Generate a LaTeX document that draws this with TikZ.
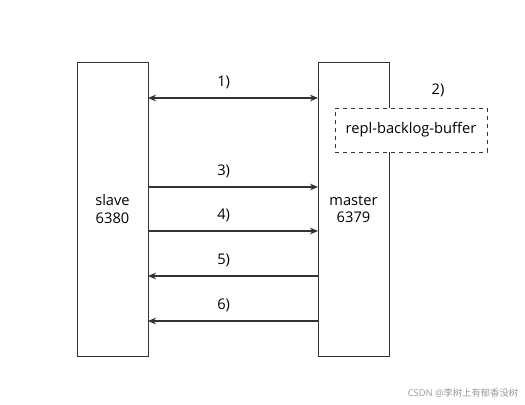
\documentclass[tikz,border=0pt]{standalone}
\usepackage{fontspec}
\setmainfont{Open Sans}
\newfontfamily\cjk{Noto Sans CJK SC}
\usetikzlibrary{arrows.meta}

\begin{document}
\begin{tikzpicture}[x=0.75pt,y=-0.75pt,every node/.style={font=\fontsize{11}{13}\selectfont},
  server/.style={draw=black!80,line width=0.7pt,minimum width=71*0.75pt,minimum height=294*0.75pt,align=center,inner sep=0pt},
  buffer/.style={draw=black!80,dashed,fill=white,line width=0.7pt,minimum width=152*0.75pt,minimum height=44*0.75pt,inner sep=0pt},
  msg/.style={draw=black!80,line width=0.9pt,-{Stealth[length=6pt,width=5pt]}},
  lbl/.style={above=3pt,xshift=-7pt}]
\useasboundingbox (0,0) rectangle (525,404);
\node[server] (slave) at (112.5,209) {slave\\6380};
\node[server] (master) at (353.5,209) {master\\6379};
\node[buffer] (buffer) at (411,130) {repl-backlog-buffer};
\node (step2) at (438,90) {2)};
% slave -> master
\coordinate (s1) at (148,98);  \coordinate (m1) at (318,98);
\coordinate (s3) at (148,187); \coordinate (m3) at (318,187);
\coordinate (s4) at (148,231); \coordinate (m4) at (318,231);
% master -> slave
\coordinate (s5) at (148,276); \coordinate (m5) at (318,276);
\coordinate (s6) at (148,321); \coordinate (m6) at (318,321);
\draw[msg,{Stealth[length=6pt,width=5pt]}-{Stealth[length=6pt,width=5pt]}] (s1) -- node[lbl] {1)} (m1);
\draw[msg] (s3) -- node[lbl] {3)} (m3);
\draw[msg] (s4) -- node[lbl] {4)} (m4);
\draw[msg] (m5) -- node[lbl] {5)} (s5);
\draw[msg] (m6) -- node[lbl] {6)} (s6);
\node[text=black!40,font=\fontsize{7}{9}\selectfont] (mark) at (463,393) {CSDN @{\cjk 李树上有郁香没树}};
\end{tikzpicture}
\end{document}
